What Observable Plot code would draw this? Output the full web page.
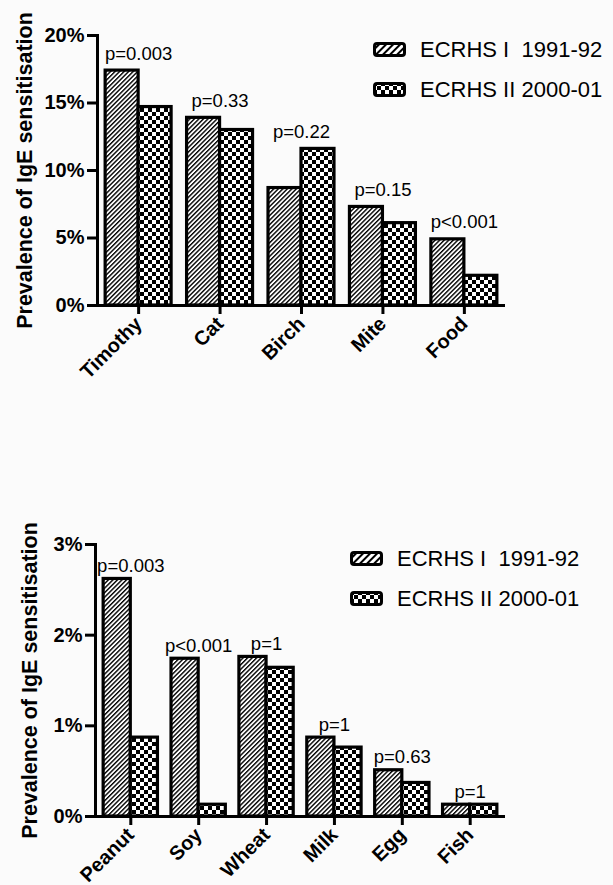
<!DOCTYPE html>
<html>
<head>
<meta charset="utf-8">
<script src="https://cdn.jsdelivr.net/npm/d3@7"></script>
<script src="https://cdn.jsdelivr.net/npm/@observablehq/plot@0.6"></script>
<style>
  html, body { margin: 0; padding: 0; background: #fbfbfb; }
  #page { position: relative; width: 613px; height: 885px; background: #fbfbfb; overflow: hidden;
          font-family: "Liberation Sans", Arial, sans-serif; color: #000; }
  .chart { position: absolute; left: 0; }
  .legend-row { position: absolute; display: flex; align-items: center; white-space: pre;
                font-size: 22px; line-height: 1; }
  .legend-row svg { margin-right: 14px; display: block; }
</style>
</head>
<body>
<svg width="0" height="0" style="position:absolute">
  <defs>
    <pattern id="hatch" patternUnits="userSpaceOnUse" width="3.2" height="3.2" patternTransform="rotate(45)">
      <rect width="3.2" height="3.2" fill="#fff"/>
      <line x1="0.7" y1="0" x2="0.7" y2="3.2" stroke="#000" stroke-width="1.4"/>
    </pattern>
    <pattern id="check" patternUnits="userSpaceOnUse" width="8" height="8">
      <rect width="8" height="8" fill="#fff"/>
      <rect x="0" y="0" width="4" height="4" fill="#000"/>
      <rect x="4" y="4" width="4" height="4" fill="#000"/>
    </pattern>
    <pattern id="hatchL" patternUnits="userSpaceOnUse" width="5" height="5" patternTransform="rotate(45)">
      <rect width="5" height="5" fill="#fff"/>
      <line x1="1" y1="0" x2="1" y2="5" stroke="#000" stroke-width="2"/>
    </pattern>
    <pattern id="checkL" patternUnits="userSpaceOnUse" width="8" height="8">
      <rect width="8" height="8" fill="#fff"/>
      <rect x="0" y="0" width="4" height="4" fill="#000"/>
      <rect x="4" y="4" width="4" height="4" fill="#000"/>
    </pattern>
  </defs>
</svg>
<div id="page"></div>
<script>
// ---------- Data ----------
const seriesNames = ["ECRHS I  1991-92", "ECRHS II 2000-01"];
const yTitle = "Prevalence of IgE sensitisation";

const topCategories = ["Timothy", "Cat", "Birch", "Mite", "Food"];
const topEcrhs1 = [17.4, 13.9, 8.7, 7.3, 4.9];
const topEcrhs2 = [14.7, 13.0, 11.6, 6.1, 2.2];
const topPValues = ["p=0.003", "p=0.33", "p=0.22", "p=0.15", "p<0.001"];
const topTicks = [0, 5, 10, 15, 20];

const bottomCategories = ["Peanut", "Soy", "Wheat", "Milk", "Egg", "Fish"];
const bottomEcrhs1 = [2.62, 1.74, 1.76, 0.87, 0.51, 0.13];
const bottomEcrhs2 = [0.87, 0.13, 1.64, 0.76, 0.37, 0.13];
const bottomPValues = ["p=0.003", "p<0.001", "p=1", "p=1", "p=0.63", "p=1"];
const bottomTicks = [0, 1, 2, 3];

// ---------- Chart builder ----------
const W = 613;
function makeChart(cfg) {
  const rows = cfg.cats.map((c, i) => ({cat: c, v1: cfg.s1[i], v2: cfg.s2[i], p: cfg.p[i], top: Math.max(cfg.s1[i], cfg.s2[i])}));
  const n = cfg.cats.length;
  const step = (W - cfg.ml - cfg.mr) / (n - cfg.pi + 2 * cfg.po);
  const bw = step * (1 - cfg.pi);
  const font = "Liberation Sans, Arial, sans-serif";
  return Plot.plot({
    width: W,
    height: cfg.height,
    marginTop: cfg.mt,
    marginBottom: cfg.mb,
    marginLeft: cfg.ml,
    marginRight: cfg.mr,
    style: {fontFamily: font, background: "transparent", overflow: "visible", color: "#000"},
    x: {type: "band", domain: cfg.cats, paddingInner: cfg.pi, paddingOuter: cfg.po, round: false},
    y: {domain: [0, cfg.ymax]},
    marks: [
      Plot.barY(rows, {x: "cat", y: "v1", insetRight: bw / 2, fill: "url(#hatch)", stroke: "#000", strokeWidth: 3.2}),
      Plot.barY(rows, {x: "cat", y: "v2", insetLeft: bw / 2, fill: "url(#check)", stroke: "#000", strokeWidth: 3.2}),
      Plot.text(rows, {x: "cat", y: "top", text: "p", dy: cfg.pdy, fontSize: 18.5, fill: "#000"}),
      Plot.frame({anchor: "left", strokeWidth: 3, stroke: "#000"}),
      Plot.ruleY([0], {strokeWidth: 3, stroke: "#000"}),
      Plot.axisY({ticks: cfg.ticks, tickFormat: d => d + "%", tickSize: 10, tickPadding: 3, strokeWidth: 3,
                  fontSize: 20, fontWeight: "bold", label: null}),
      Plot.axisX({tickSize: 9, tickPadding: 6, tickRotate: -45, strokeWidth: 3, fontSize: 20,
                  fontWeight: "bold", label: null}),
      Plot.text([yTitle], {frameAnchor: "left", textAnchor: "middle", rotate: -90, dx: cfg.tdx, fontSize: 21.5, fontWeight: "bold", fill: "#000"})
    ]
  });
}

const page = document.getElementById("page");

const topChart = makeChart({cats: topCategories, s1: topEcrhs1, s2: topEcrhs2, p: topPValues, ticks: topTicks, ymax: 20,
  height: 400, mt: 35, mb: 95, ml: 97, mr: 108, pi: 0.19, po: 0.1, pdy: -17, tdx: -72});
topChart.classList.add("chart");
topChart.style.top = "0px";
page.appendChild(topChart);

const bottomChart = makeChart({cats: bottomCategories, s1: bottomEcrhs1, s2: bottomEcrhs2, p: bottomPValues, ticks: bottomTicks, ymax: 3,
  height: 415, mt: 74, mb: 69, ml: 95, mr: 108, pi: 0.2, po: 0.12, pdy: -13, tdx: -65});
bottomChart.classList.add("chart");
bottomChart.style.top = "470px";
page.appendChild(bottomChart);

// ---------- Legends ----------
function addLegend(x, ys) {
  const fills = ["url(#hatchL)", "url(#checkL)"];
  seriesNames.forEach((name, i) => {
    const row = document.createElement("div");
    row.className = "legend-row";
    row.style.left = x + "px";
    row.style.top = ys[i] + "px";
    row.style.height = "15px";
    const sw = d3.create("svg").attr("width", 33).attr("height", 15);
    sw.append("rect").attr("x", 1.5).attr("y", 1.5).attr("width", 30).attr("height", 12).attr("rx", 2.5)
      .attr("fill", fills[i]).attr("stroke", "#000").attr("stroke-width", 3);
    row.appendChild(sw.node());
    const span = document.createElement("span");
    span.textContent = name;
    row.appendChild(span);
    page.appendChild(row);
  });
}
addLegend(373, [42, 82]);
addLegend(350, [551, 591]);
</script>
</body>
</html>
